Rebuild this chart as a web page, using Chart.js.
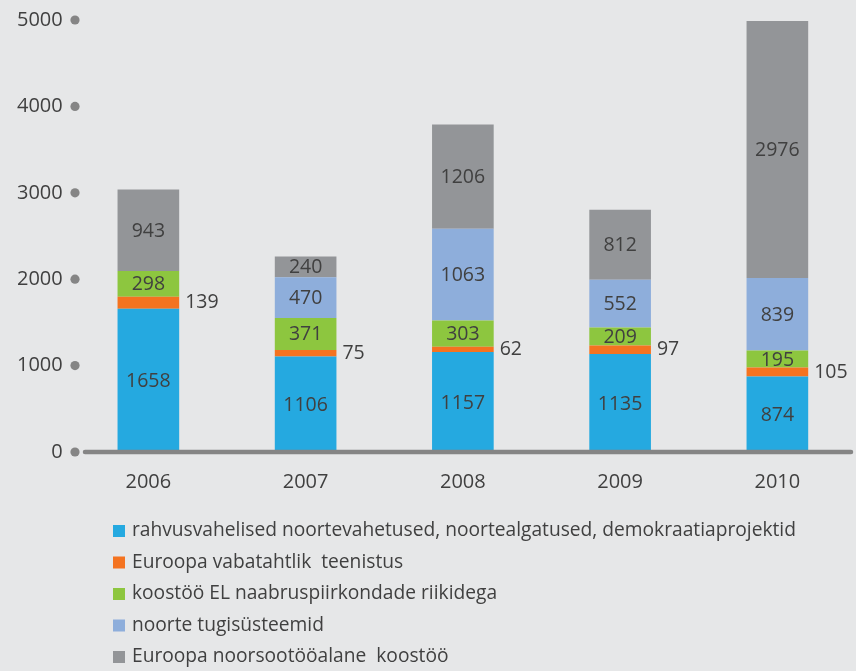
<!DOCTYPE html>
<html>
<head>
<meta charset="utf-8">
<script src="https://cdn.jsdelivr.net/npm/chart.js@4.4.1/dist/chart.umd.min.js"></script>
<style>
  html, body { margin: 0; padding: 0; background: #e6e7e8; }
  #wrap { width: 856px; height: 671px; position: relative; }
</style>
</head>
<body>
<div id="wrap"><canvas id="c" width="856" height="671"></canvas></div>
<script>
const years = ['2006', '2007', '2008', '2009', '2010'];
const seriesNames = [
  'rahvusvahelised noortevahetused, noortealgatused, demokraatiaprojektid',
  'Euroopa vabatahtlik  teenistus',
  'koostöö EL naabruspiirkondade riikidega',
  'noorte tugisüsteemid',
  'Euroopa noorsootööalane  koostöö'
];
const noortevahetused = [1658, 1106, 1157, 1135, 874];
const vabatahtlik = [139, 75, 62, 97, 105];
const naabrus = [298, 371, 303, 209, 195];
const tugisusteemid = [0, 470, 1063, 552, 839];
const noorsootoo = [943, 240, 1206, 812, 2976];
const yTicks = [0, 1000, 2000, 3000, 4000, 5000];

const colors = ['#25a9e0', '#f47320', '#8dc63f', '#8eaedb', '#939598'];
const FONT = '"Open Sans", "Noto Sans", sans-serif';
const TEXT = '#404040';

const seriesData = [noortevahetused, vabatahtlik, naabrus, tugisusteemid, noorsootoo];

const bgPlugin = {
  id: 'bg',
  beforeDraw(chart) {
    const ctx = chart.ctx;
    ctx.save();
    ctx.fillStyle = '#e6e7e8';
    ctx.fillRect(0, 0, chart.width, chart.height);
    ctx.restore();
  }
};

const decoPlugin = {
  id: 'deco',
  afterDatasetsDraw(chart) {
    const ctx = chart.ctx;
    const ys = chart.scales.y;
    ctx.save();
    // axis line
    ctx.strokeStyle = '#858585';
    ctx.lineWidth = 4.5;
    ctx.lineCap = 'round';
    ctx.beginPath();
    ctx.moveTo(85, ys.getPixelForValue(0));
    ctx.lineTo(851, ys.getPixelForValue(0));
    ctx.stroke();
    // tick dots
    ctx.fillStyle = '#858585';
    yTicks.forEach(v => {
      ctx.beginPath();
      ctx.arc(75, ys.getPixelForValue(v), 4.6, 0, Math.PI * 2);
      ctx.fill();
    });
    // value labels
    ctx.font = '19.5px ' + FONT;
    ctx.fillStyle = TEXT;
    ctx.textBaseline = 'middle';
    chart.data.datasets.forEach((ds, i) => {
      const meta = chart.getDatasetMeta(i);
      meta.data.forEach((bar, j) => {
        const v = ds.data[j];
        if (!v) return;
        const cy = (bar.y + bar.base) / 2;
        if (i === 1) {
          ctx.textAlign = 'left';
          ctx.fillText(String(v), bar.x + bar.width / 2 + 6, cy);
        } else {
          ctx.textAlign = 'center';
          ctx.fillText(String(v), bar.x, cy + 1);
        }
      });
    });
    // legend
    ctx.font = '19.2px ' + FONT;
    ctx.textAlign = 'left';
    ctx.textBaseline = 'middle';
    seriesNames.forEach((name, i) => {
      const cy = 531 + i * 31.5;
      ctx.fillStyle = colors[i];
      ctx.fillRect(113, cy - 6, 12, 12);
      ctx.fillStyle = TEXT;
      ctx.fillText(name, 132, cy);
    });
    ctx.restore();
  }
};

new Chart(document.getElementById('c'), {
  type: 'bar',
  data: {
    labels: years,
    datasets: seriesNames.map((n, i) => ({
      label: n,
      data: seriesData[i],
      backgroundColor: colors[i],
      borderWidth: 0,
      barPercentage: 0.392,
      categoryPercentage: 1
    }))
  },
  options: {
    responsive: false,
    animation: false,
    devicePixelRatio: 1,
    layout: { padding: { left: 10, right: 0, top: 20, bottom: 159 } },
    plugins: { legend: { display: false }, tooltip: { enabled: false } },
    scales: {
      x: {
        stacked: true,
        grid: { display: false, drawTicks: false },
        border: { display: false },
        ticks: { color: TEXT, font: { family: FONT, size: 20 }, padding: 18 },
        afterSetDimensions(scale) { scale.right += 4; scale.width += 4; }
      },
      y: {
        stacked: true,
        min: 0, max: 5000,
        afterBuildTicks(scale) { scale.ticks = yTicks.map(v => ({ value: v })); },
        grid: { display: false, drawTicks: false },
        border: { display: false },
        ticks: {
          color: TEXT, font: { family: FONT, size: 20 }, padding: 7,
          callback: (v) => String(v)
        }
      }
    }
  },
  plugins: [bgPlugin, decoPlugin]
});
</script>
</body>
</html>
